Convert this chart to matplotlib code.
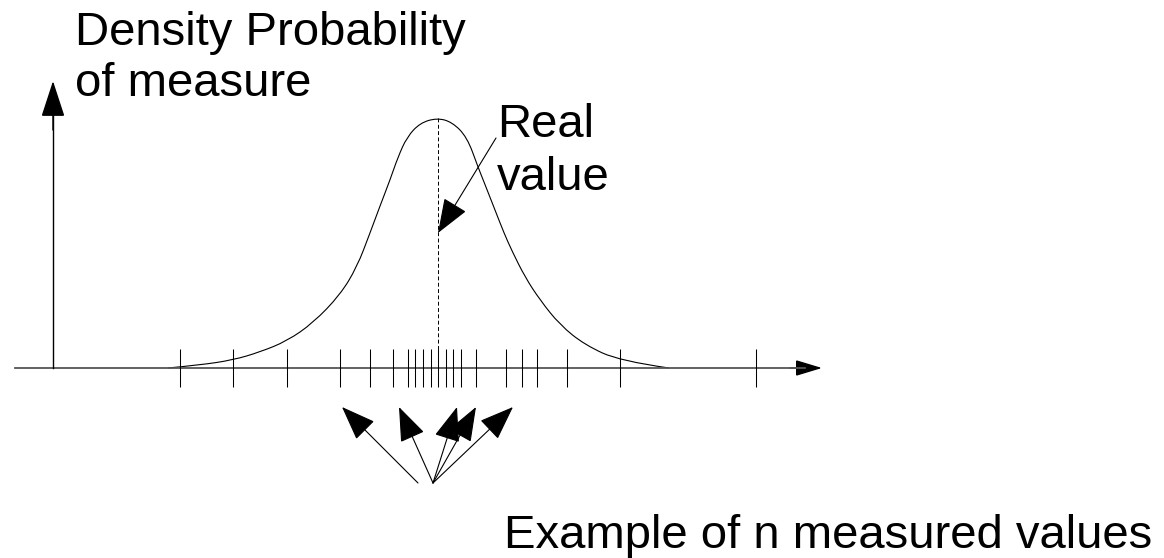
import matplotlib
matplotlib.use('Agg')
import matplotlib.pyplot as plt
from matplotlib.patches import FancyArrowPatch, PathPatch
from matplotlib.path import Path

# everything is in picture pixels (x right, y down)
axis_y = 368
peak_x = 438

# measured values marked on the axis
measures = [180, 233, 287, 340, 370, 393, 408, 415, 423, 431, 438, 446, 453,
            461, 476, 506, 522, 537, 567, 620, 756]

# density curve
curve_x = [168, 200, 233, 260, 287, 313, 340, 357, 370, 380, 390, 398, 407,
           420, 437, 452, 467, 478, 484, 495, 504, 512, 525, 540, 560, 585,
           620, 669]
curve_y = [368, 365, 360, 352, 341, 323, 295, 267, 233, 206, 180, 157, 137,
           123, 118, 122, 137, 167, 182, 210, 233, 251, 277, 300, 325, 345,
           361, 368]

# arrows pointing at some measures: (tail, tip)
meas_arrows = [((418, 483), (342, 407)),
               ((433, 483), (399, 407)),
               ((433, 483), (457, 407)),
               ((433, 483), (476, 407)),
               ((433, 483), (513, 407))]
real_arrow = ((496, 138), (438, 233))

font = 'Liberation Sans'
fs = 34

fig = plt.figure(figsize=(11.64, 5.58), dpi=100)
ax = fig.add_axes([0, 0, 1, 1])
ax.set_xlim(0, 1164)
ax.set_ylim(558, 0)
ax.axis('off')


def arrow(a, b, hl, hw, lw=0.8):
    p = FancyArrowPatch(a, b, arrowstyle='-|>,head_length=%g,head_width=%g' % (hl, hw),
                        mutation_scale=1, shrinkA=0, shrinkB=0, lw=lw,
                        color='black', joinstyle='miter')
    ax.add_patch(p)


# axes
ax.plot([15, 805], [axis_y, axis_y], color='#555555', lw=1.3)
arrow((790, axis_y), (822, axis_y), 16.5, 5.0, lw=1.0)
ax.plot([53, 53], [axis_y, 105], color='black', lw=1.0)
arrow((53, 130), (53, 81), 23, 7.5, lw=1.0)

# curve: read points used as quadratic bezier controls, smooth like the drawing
pts = list(zip(curve_x, curve_y))
verts = [pts[0]]
codes = [Path.MOVETO]
for i in range(1, len(pts) - 1):
    mid = ((pts[i][0] + pts[i + 1][0]) / 2, (pts[i][1] + pts[i + 1][1]) / 2)
    if i == len(pts) - 2:
        mid = pts[-1]
    verts += [pts[i], mid]
    codes += [Path.CURVE3, Path.CURVE3]
ax.add_patch(PathPatch(Path(verts, codes), fill=False, edgecolor='black', lw=0.8))

ax.plot([peak_x, peak_x], [118, axis_y], color='black', lw=0.7,
        linestyle=(0, (4, 2.5)))
ax.vlines(measures, 349, 387, color='black', lw=0.75)

arrow(real_arrow[0], real_arrow[1], 22, 8.3, lw=0.8)
for tail, tip in meas_arrows:
    arrow(tail, tip, 22, 8.3, lw=0.8)

ax.text(75, 45, 'Density Probability', fontsize=fs, family=font, va='baseline')
ax.text(75, 96, 'of measure', fontsize=fs, family=font, va='baseline')
ax.text(497, 137, 'Real', fontsize=fs, family=font, va='baseline')
ax.text(497, 190, 'value', fontsize=fs, family=font, va='baseline')
ax.text(1152, 548, 'Example of n measured values', fontsize=fs, family=font,
        va='baseline', ha='right')

fig.savefig('out.png', dpi=100)
